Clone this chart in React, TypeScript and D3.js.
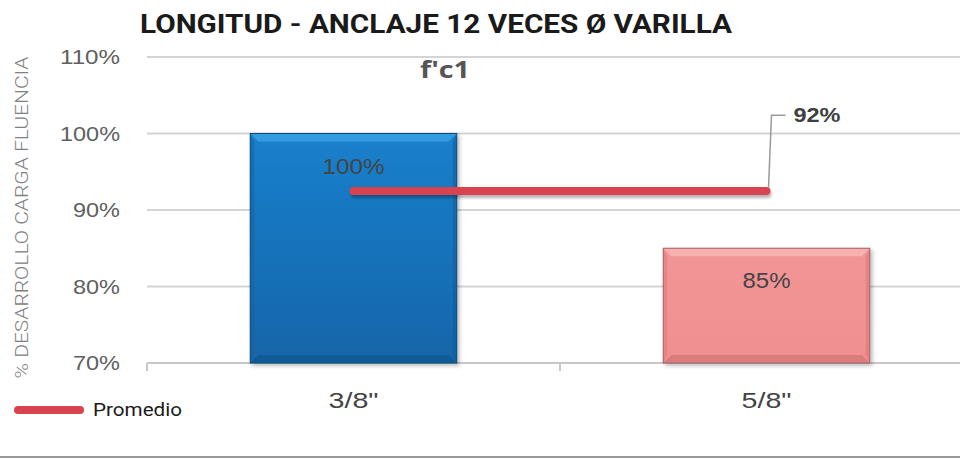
import React from "react";
import * as d3 from "d3";

const categories = ["3/8\"", "5/8\""];
const values = [1.0, 0.85];
const barLabels = ["100%", "85%"];
const averageValue = 0.925;
const averageLabel = "92%";
const yTicks = [0.7, 0.8, 0.9, 1.0, 1.1];

const W = 960;
const H = 459;

export default function App() {
  const y = d3.scaleLinear().domain([0.7, 1.1]).range([363, 57]);
  const x = d3
    .scaleBand<string>()
    .domain(categories)
    .range([147, 973])
    .paddingInner(0.5)
    .paddingOuter(0.25);
  const step = x.step();
  const fmt = d3.format(".0%");
  const bw = x.bandwidth();
  const colors = [
    { top: "#3aa3e6", side: "#0f5f9e", bottom: "#0d4f86", edge: "#0b4a7c" },
    { top: "#f8b6b6", side: "#d87a7b", bottom: "#c46a6b", edge: "#a86062" },
  ];
  const bev = 8;
  const avgX1 = (x(categories[0]) as number) + bw / 2;
  const avgX2 = (x(categories[1]) as number) + bw / 2;
  const avgY = y(averageValue);

  return (
    <svg
      width={W}
      height={H}
      style={{ position: "absolute", left: 0, top: 0, background: "#fff" }}
      fontFamily="Roboto, 'Liberation Sans', Arial, sans-serif"
    >
      <defs>
        <linearGradient id="g0" x1="0" y1="0" x2="0" y2="1">
          <stop offset="0" stopColor="#1a80cc" />
          <stop offset="1" stopColor="#1565a9" />
        </linearGradient>
        <linearGradient id="g1" x1="0" y1="0" x2="0" y2="1">
          <stop offset="0" stopColor="#f29596" />
          <stop offset="1" stopColor="#f08f90" />
        </linearGradient>
        <filter id="sh" x="-10%" y="-10%" width="130%" height="130%">
          <feGaussianBlur in="SourceAlpha" stdDeviation="2" />
          <feOffset dx="2" dy="2" result="o" />
          <feComponentTransfer>
            <feFuncA type="linear" slope="0.3" />
          </feComponentTransfer>
          <feMerge>
            <feMergeNode />
            <feMergeNode in="SourceGraphic" />
          </feMerge>
        </filter>
        <filter id="lsh" filterUnits="userSpaceOnUse" x="0" y="0" width={W} height={H}>
          <feGaussianBlur in="SourceAlpha" stdDeviation="1.5" />
          <feOffset dx="1" dy="3" />
          <feComponentTransfer>
            <feFuncA type="linear" slope="0.3" />
          </feComponentTransfer>
          <feMerge>
            <feMergeNode />
            <feMergeNode in="SourceGraphic" />
          </feMerge>
        </filter>
      </defs>

      {/* title */}
      <text
        x={140}
        y={33}
        fontSize={25}
        fontWeight={700}
        fill="#1a1a1a"
        textLength={592}
        lengthAdjust="spacingAndGlyphs"
      >
        LONGITUD - ANCLAJE 12 VECES Ø VARILLA
      </text>

      {/* gridlines */}
      {yTicks.map((t) => (
        <g key={t}>
          <line x1={147} x2={W} y1={y(t)} y2={y(t)} stroke="#d4d4d4" strokeWidth={2} />
          <text
            x={120}
            y={y(t)}
            dy="0.35em"
            textAnchor="end"
            fontSize={21}
            fill="#606060"
            fontFamily="'Liberation Sans', Arial, sans-serif"
            textLength={t >= 1 ? 60 : 47}
            lengthAdjust="spacingAndGlyphs"
          >
            {fmt(t)}
          </text>
        </g>
      ))}

      <text
        x={420}
        y={78}
        fontSize={23}
        fontWeight={700}
        fill="#555"
        fontFamily="'Open Sans', 'DejaVu Sans', sans-serif"
        textLength={50}
        lengthAdjust="spacingAndGlyphs"
      >
        f'c1
      </text>

      {/* axis line and ticks */}
      <line x1={147} x2={W} y1={y(0.7)} y2={y(0.7)} stroke="#c8c8c8" strokeWidth={2} />
      {[0, 1].map((i) => (
        <line
          key={i}
          x1={147 + i * step}
          x2={147 + i * step}
          y1={y(0.7)}
          y2={y(0.7) + 8}
          stroke="#c8c8c8"
          strokeWidth={2}
        />
      ))}

      {/* bars */}
      {categories.map((c, i) => {
        const x0 = x(c) as number;
        const y0 = y(values[i]);
        const y1 = y(0.7);
        const col = colors[i];
        return (
          <g key={c} filter="url(#sh)">
            <rect x={x0} y={y0} width={bw} height={y1 - y0} fill={`url(#g${i})`} />
            <polygon
              points={`${x0},${y0} ${x0 + bw},${y0} ${x0 + bw - bev},${y0 + bev} ${x0 + bev},${y0 + bev}`}
              fill={col.top}
              opacity={0.8}
            />
            <polygon
              points={`${x0},${y0} ${x0 + bev * 0.5},${y0 + bev} ${x0 + bev * 0.5},${y1 - bev} ${x0},${y1}`}
              fill={col.side}
              opacity={0.5}
            />
            <polygon
              points={`${x0 + bw},${y0} ${x0 + bw - bev * 0.5},${y0 + bev} ${x0 + bw - bev * 0.5},${y1 - bev} ${x0 + bw},${y1}`}
              fill={col.side}
              opacity={0.6}
            />
            <polygon
              points={`${x0},${y1} ${x0 + bw},${y1} ${x0 + bw - bev},${y1 - bev} ${x0 + bev},${y1 - bev}`}
              fill={col.bottom}
              opacity={0.5}
            />
            <rect x={x0} y={y0} width={bw} height={y1 - y0} fill="none" stroke={col.edge} strokeWidth={1} />
          </g>
        );
      })}

      {/* bar value labels */}
      {categories.map((c, i) => (
        <text
          key={c}
          x={(x(c) as number) + bw / 2}
          y={y(values[i]) + 40}
          textAnchor="middle"
          fontSize={22}
          fill="#444"
          fontFamily="'Liberation Sans', Arial, sans-serif"
          textLength={i === 0 ? 62 : 48}
          lengthAdjust="spacingAndGlyphs"
        >
          {barLabels[i]}
        </text>
      ))}

      {/* average line */}
      <line
        x1={avgX1}
        x2={avgX2}
        y1={avgY}
        y2={avgY}
        stroke="#d9434f"
        strokeWidth={8}
        strokeLinecap="round"
        filter="url(#lsh)"
      />
      {/* leader line */}
      <polyline
        points={`${avgX2 + 2},${avgY - 3} ${avgX2 + 5},${y(1.024)} ${avgX2 + 19},${y(1.024)}`}
        fill="none"
        stroke="#9a9a9a"
        strokeWidth={1.5}
      />
      <text
        x={avgX2 + 27}
        y={y(1.024)}
        dy="0.35em"
        fontSize={21}
        fontWeight={700}
        fill="#404040"
        fontFamily="'Liberation Sans', Arial, sans-serif"
        textLength={47}
        lengthAdjust="spacingAndGlyphs"
      >
        {averageLabel}
      </text>

      {/* category labels */}
      {categories.map((c) => (
        <text
          key={c}
          x={(x(c) as number) + bw / 2}
          y={400}
          dy="0.35em"
          textAnchor="middle"
          fontSize={22}
          fill="#444"
          fontFamily="'Liberation Sans', Arial, sans-serif"
          textLength={50}
          lengthAdjust="spacingAndGlyphs"
        >
          {c}
        </text>
      ))}

      {/* y axis title */}
      <text
        transform={`translate(28, ${(57 + 378) / 2}) rotate(-90)`}
        textAnchor="middle"
        fontSize={19}
        fontWeight={300}
        fill="#808080"
        textLength={322}
        lengthAdjust="spacingAndGlyphs"
      >
        % DESARROLLO CARGA FLUENCIA
      </text>

      {/* legend */}
      <line x1={18} x2={80} y1={410} y2={410} stroke="#d9434f" strokeWidth={8} strokeLinecap="round" />
      <text x={93} y={410} dy="0.35em" fontSize={18} fill="#1a1a1a" textLength={89} lengthAdjust="spacingAndGlyphs">
        Promedio
      </text>

      {/* bottom rule */}
      <line x1={0} x2={W} y1={457} y2={457} stroke="#999" strokeWidth={2} />
    </svg>
  );
}
